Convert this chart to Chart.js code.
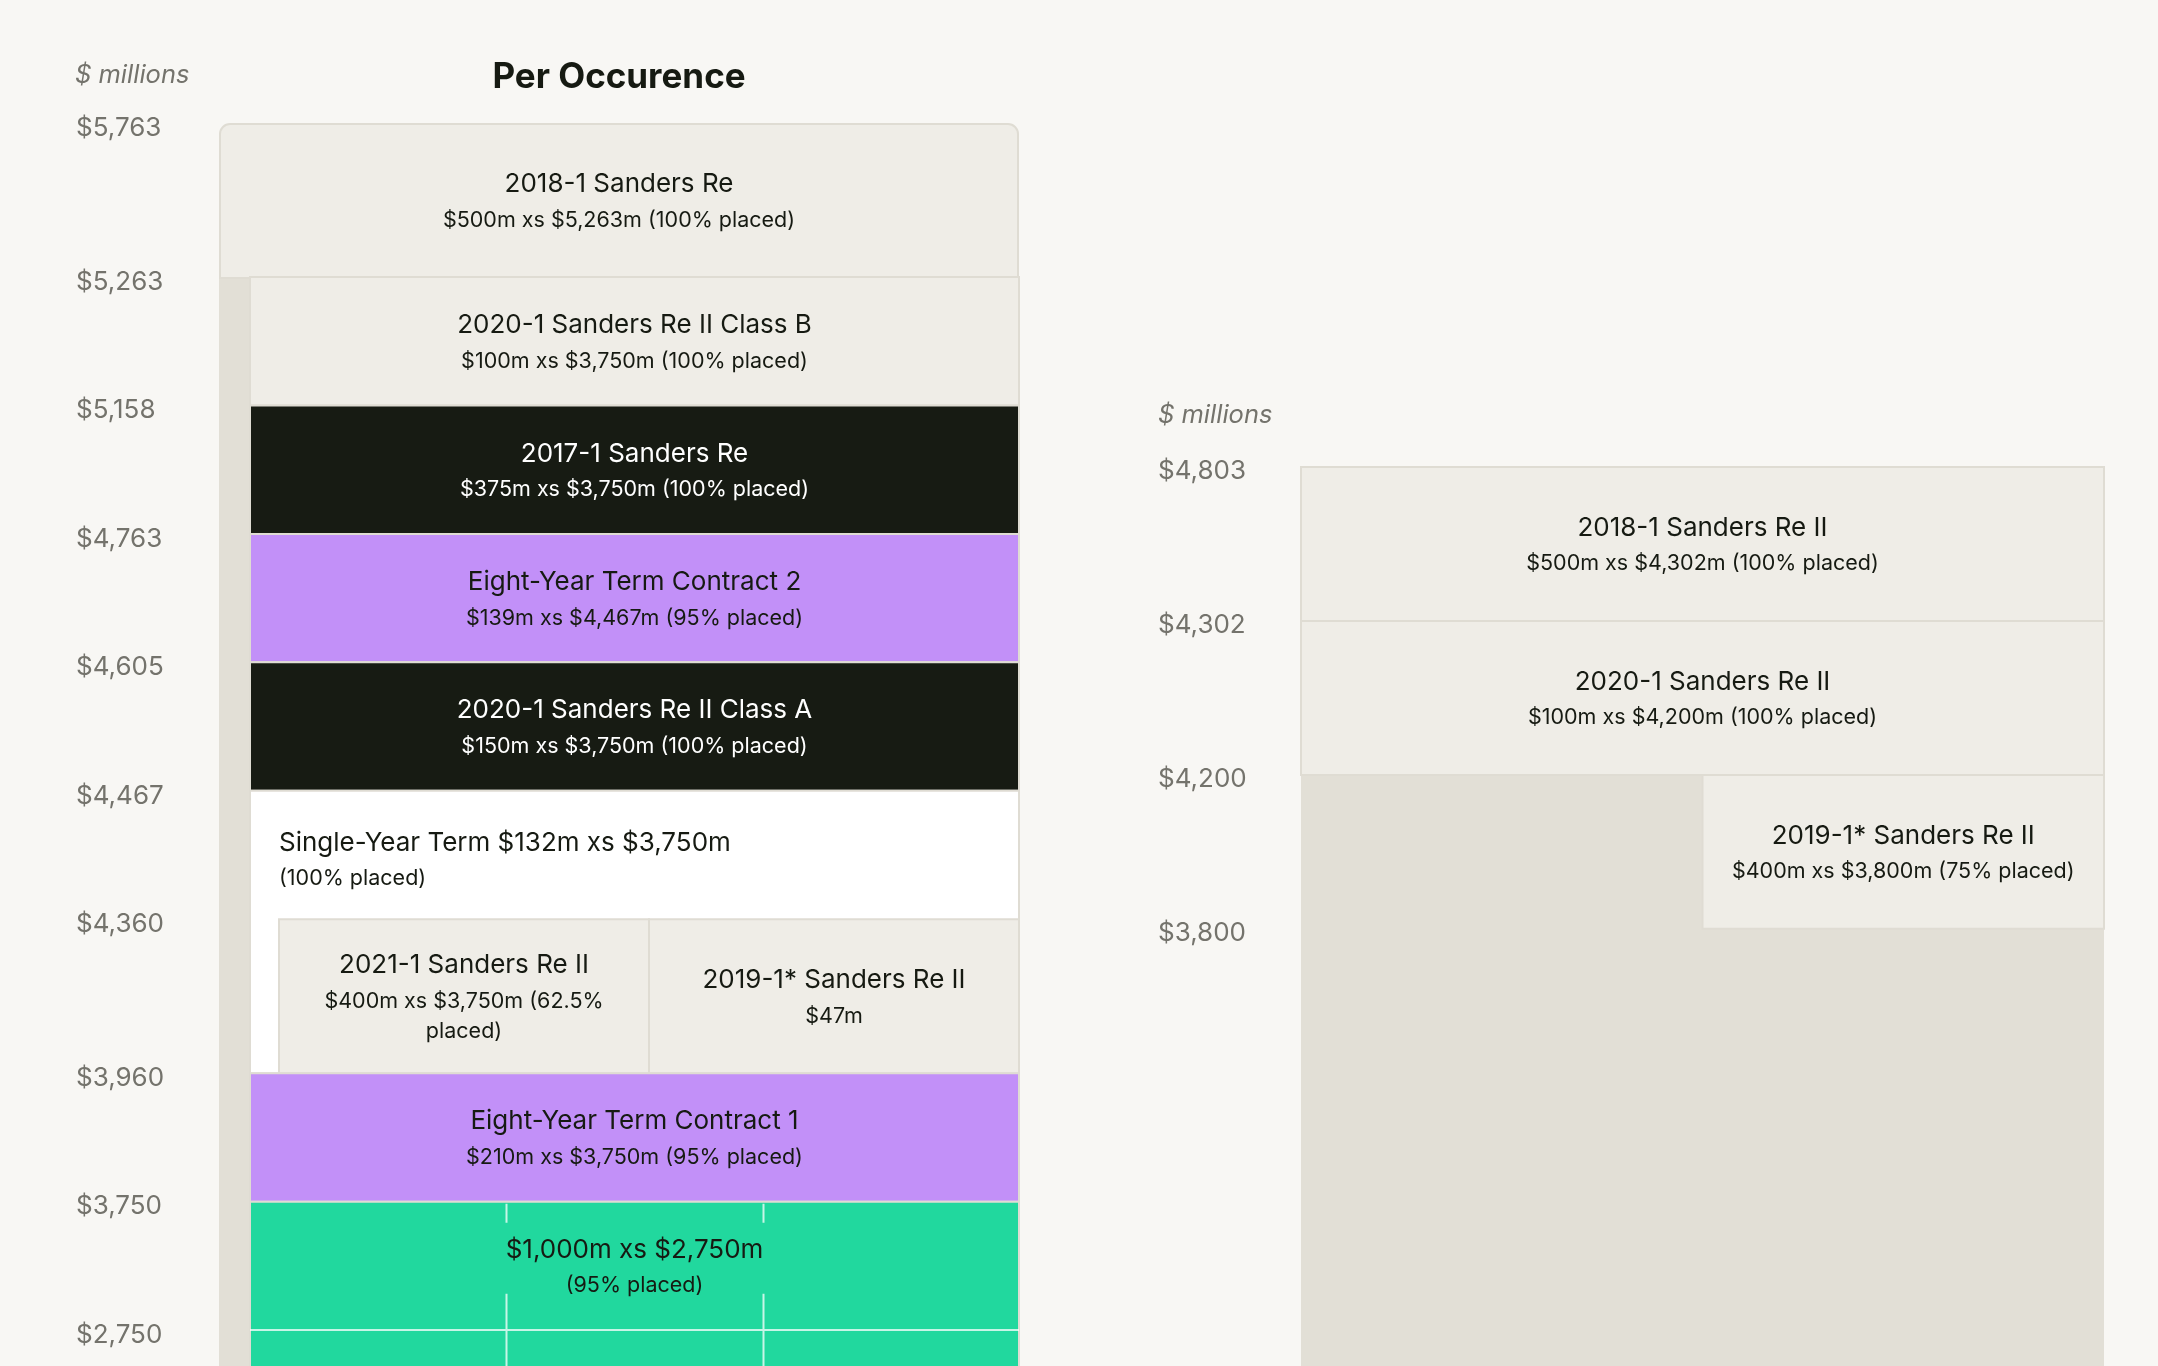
<!DOCTYPE html>
<html>
<head>
<meta charset="utf-8">
<title>Per Occurence</title>
<script src="https://cdn.jsdelivr.net/npm/chart.js@4.4.1/dist/chart.umd.min.js"></script>
<style>
  html, body { margin: 0; padding: 0; background: #f8f7f4; }
  body { width: 2158px; height: 1366px; position: relative; overflow: hidden; }
  #left { position: absolute; left: 0; top: 0; }
  #right { position: absolute; left: 1100px; top: 0; }
</style>
</head>
<body>
<canvas id="left" width="1080" height="1366"></canvas>
<canvas id="right" width="1058" height="1366"></canvas>
<script>
// ---- left tower (per occurence), $ millions ----
const leftTicks = [2750, 3750, 3960, 4360, 4467, 4605, 4763, 5158, 5263, 5763];
const leftNames = [
  '2018-1 Sanders Re', '2020-1 Sanders Re II Class B', '2017-1 Sanders Re',
  'Eight-Year Term Contract 2', '2020-1 Sanders Re II Class A',
  'Single-Year Term $132m xs $3,750m', '2021-1 Sanders Re II', '2019-1* Sanders Re II',
  'Eight-Year Term Contract 1', '$1,000m xs $2,750m'
];
const leftDetails = [
  ['$500m xs $5,263m (100% placed)'], ['$100m xs $3,750m (100% placed)'],
  ['$375m xs $3,750m (100% placed)'], ['$139m xs $4,467m (95% placed)'],
  ['$150m xs $3,750m (100% placed)'], ['(100% placed)'],
  ['$400m xs $3,750m (62.5%', 'placed)'], ['$47m'],
  ['$210m xs $3,750m (95% placed)'], ['(95% placed)']
];
const leftLow  = [5263, 5158, 4763, 4605, 4467, 3960, 3960, 3960, 3750, 2750];
const leftHigh = [5763, 5263, 5158, 4763, 4605, 4467, 4360, 4360, 3960, 3750];

// ---- right tower ----
const rightTicks = [3800, 4200, 4302, 4803];
const rightNames = ['2018-1 Sanders Re II', '2020-1 Sanders Re II', '2019-1* Sanders Re II'];
const rightDetails = [
  ['$500m xs $4,302m (100% placed)'], ['$100m xs $4,200m (100% placed)'],
  ['$400m xs $3,800m (75% placed)']
];
const rightLow  = [4302, 4200, 3800];
const rightHigh = [4803, 4302, 4200];

// colours
const LIGHT = '#efede7', BODY = '#e2dfd6', LINE = '#dfdcd3';
const INK = '#161a12', DARK = '#171b13', PURPLE = '#c290f8', GREEN = '#21d89e';
const GREY = '#74736c';

// layout: row heights on the drawn axis (not to scale) and box x spans
const leftRowWeights = [1, 1, 1.2, 1, 1, 1, 1, 1, 1.2];
const rightRowWeights = [1, 1, 1];
const IN = 0.03875;
const leftLook = [
  { x0: 0,     x1: 1,      fill: LIGHT,   ink: INK, round: true },
  { x0: IN,    x1: 1,      fill: LIGHT,   ink: INK },
  { x0: IN,    x1: 1,      fill: DARK,    ink: '#ffffff' },
  { x0: IN,    x1: 1,      fill: PURPLE,  ink: INK },
  { x0: IN,    x1: 1,      fill: DARK,    ink: '#ffffff' },
  { x0: IN,    x1: 1,      fill: '#ffffff', ink: INK, alignLeft: 0.075 },
  { x0: 0.075, x1: 0.5375, fill: LIGHT,   ink: INK },
  { x0: 0.5375, x1: 1,     fill: LIGHT,   ink: INK },
  { x0: IN,    x1: 1,      fill: PURPLE,  ink: INK },
  { x0: IN,    x1: 1,      fill: GREEN,   ink: INK, toBottom: true, grid: true }
];
const rightLook = [
  { x0: 0,   x1: 1, fill: LIGHT, ink: INK },
  { x0: 0,   x1: 1, fill: LIGHT, ink: INK },
  { x0: 0.5, x1: 1, fill: LIGHT, ink: INK }
];

// maps a $ value onto the (schematic) tower axis
function makeSlotter(ticks, weights) {
  const pos = [0];
  weights.forEach((w, i) => pos.push(pos[i] + w));
  const fn = v => {
    let i = 0;
    while (i < ticks.length - 2 && v > ticks[i + 1]) i++;
    return pos[i] + (v - ticks[i]) / (ticks[i + 1] - ticks[i]) * (pos[i + 1] - pos[i]);
  };
  fn.positions = pos;
  return fn;
}
const leftSlot = makeSlotter(leftTicks, leftRowWeights);
const rightSlot = makeSlotter(rightTicks, rightRowWeights);

const TITLE_FONT = '26px Inter';
const SUB_FONT = '21.5px Inter';

const towerPlugin = {
  id: 'tower',
  beforeDatasetsDraw(chart, args, o) {
    const { ctx, chartArea: area, scales: { x, y } } = chart;
    ctx.save();

    // tower body behind the layers
    const bodyTop = y.getPixelForValue(o.slot(o.bodyTop));
    ctx.fillStyle = BODY;
    ctx.fillRect(x.getPixelForValue(0), bodyTop, x.getPixelForValue(1) - x.getPixelForValue(0), area.bottom - bodyTop);

    o.low.forEach((lo, i) => {
      const look = o.look[i];
      const left = x.getPixelForValue(look.x0);
      const right = x.getPixelForValue(look.x1);
      const top = y.getPixelForValue(o.slot(o.high[i]));
      const bandBottom = y.getPixelForValue(o.slot(lo));
      const bottom = look.toBottom ? area.bottom + 4 : bandBottom;

      ctx.fillStyle = look.fill;
      ctx.strokeStyle = LINE;
      ctx.lineWidth = 2;
      ctx.beginPath();
      if (look.round) ctx.roundRect(left + 1, top + 1, right - left - 2, bottom - top, [10, 10, 0, 0]);
      else ctx.rect(left, top, right - left, bottom - top);
      ctx.fill();
      ctx.stroke();

      const lines = [o.names[i]].concat(o.details[i]);
      ctx.fillStyle = look.ink;
      ctx.textBaseline = 'middle';

      if (look.alignLeft !== undefined) {
        const tx = x.getPixelForValue(look.alignLeft);
        ctx.textAlign = 'left';
        ctx.font = TITLE_FONT;
        ctx.fillText(lines[0], tx, top + 52);
        ctx.font = SUB_FONT;
        lines.slice(1).forEach((l, k) => ctx.fillText(l, tx, top + 88 + k * 30));
        return;
      }

      const cx = (left + right) / 2;
      const cy = (top + bandBottom) / 2 + 2;
      const span = 36 + 30 * (lines.length - 2);
      let ty = cy - span / 2;
      ctx.textAlign = 'center';
      ctx.font = TITLE_FONT;
      ctx.fillText(lines[0], cx, ty);
      ty += 36;
      ctx.font = SUB_FONT;
      lines.slice(1).forEach(l => { ctx.fillText(l, cx, ty); ty += 30; });

      if (look.grid) {
        // faint grid inside the lower programme
        ctx.strokeStyle = 'rgba(255,255,255,0.75)';
        ctx.lineWidth = 2;
        ctx.beginPath();
        ctx.moveTo(left, bandBottom);
        ctx.lineTo(right, bandBottom);
        const gapTop = cy - span / 2 - 27;
        const gapBottom = cy + span / 2 + 8;
        [1 / 3, 2 / 3].forEach(f => {
          const gx = Math.round(left + (right - left) * f) + 0.5;
          ctx.moveTo(gx, top + 2);
          ctx.lineTo(gx, gapTop);
          ctx.moveTo(gx, gapBottom);
          ctx.lineTo(gx, bottom);
        });
        ctx.stroke();
      }
    });
    ctx.restore();
  },
  afterDraw(chart, args, o) {
    const { ctx, chartArea: area } = chart;
    ctx.save();
    ctx.textBaseline = 'middle';
    ctx.fillStyle = GREY;
    ctx.textAlign = 'left';
    ctx.font = 'italic 25.5px Inter';
    ctx.fillText('$ millions', o.unitX, o.unitY);
    if (o.title) {
      ctx.fillStyle = INK;
      ctx.textAlign = 'center';
      ctx.font = 'bold 35px Inter';
      ctx.fillText(o.title, (area.left + area.right) / 2, 77);
    }
    ctx.restore();
  }
};

function towerChart(id, t) {
  return new Chart(document.getElementById(id), {
    type: 'scatter',
    data: { datasets: [] },
    options: {
      responsive: false,
      animation: false,
      events: [],
      layout: { padding: t.padding },
      plugins: {
        legend: { display: false },
        tooltip: { enabled: false },
        tower: t.tower
      },
      scales: {
        x: { type: 'linear', min: 0, max: 1, display: false },
        y: {
          type: 'linear',
          min: t.yMin,
          max: t.tower.slot.positions[t.tower.slot.positions.length - 1],
          grid: { display: false },
          border: { display: false },
          afterBuildTicks: s => { s.ticks = t.tower.slot.positions.map(v => ({ value: v })); },
          afterFit: s => { s.width = 143; s.paddingTop = 0; s.paddingBottom = 0; },
          ticks: {
            autoSkip: false,
            crossAlign: 'far',
            labelOffset: t.labelOffset,
            color: GREY,
            font: { family: 'Inter', size: 26 },
            callback: (v, i) => '$' + t.ticks[i].toLocaleString('en-US')
          }
        }
      }
    },
    plugins: [towerPlugin]
  });
}

towerChart('left', {
  ticks: leftTicks,
  yMin: -0.28,
  labelOffset: 5,
  padding: { left: 76, right: 61, top: 123, bottom: 0 },
  tower: {
    slot: leftSlot, bodyTop: 5263,
    names: leftNames, details: leftDetails, low: leftLow, high: leftHigh, look: leftLook,
    title: 'Per Occurence', unitX: 75, unitY: 75
  }
});

towerChart('right', {
  ticks: rightTicks,
  yMin: -2.84,
  labelOffset: 4,
  padding: { left: 58, right: 54, top: 467, bottom: 0 },
  tower: {
    slot: rightSlot, bodyTop: 4200,
    names: rightNames, details: rightDetails, low: rightLow, high: rightHigh, look: rightLook,
    unitX: 58, unitY: 415
  }
});
</script>
</body>
</html>
